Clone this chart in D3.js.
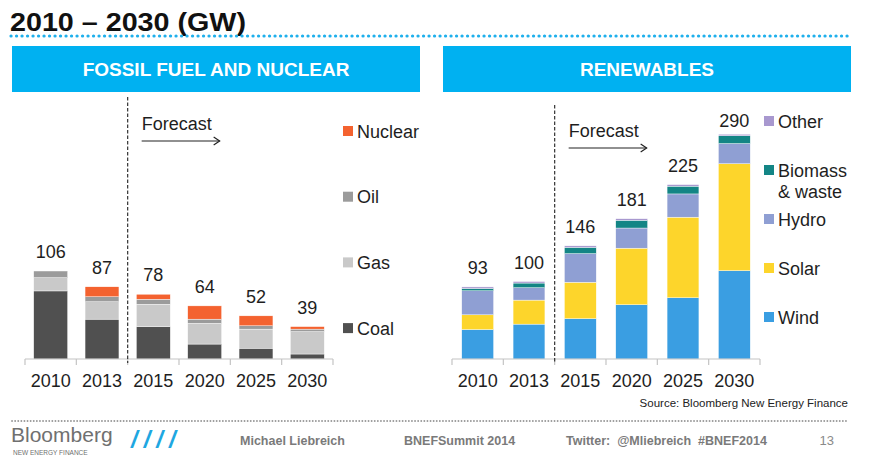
<!DOCTYPE html>
<html><head><meta charset="utf-8">
<script src="https://cdn.jsdelivr.net/npm/d3@7"></script>
<style>
html,body{margin:0;padding:0;background:#fff;}
svg{display:block;font-family:"Liberation Sans",Arial,sans-serif;}
</style></head>
<body><svg id="c" width="872" height="461"></svg>
<script>
// ---- data ----
const years = ["2010","2013","2015","2020","2025","2030"];
const fossilKeys = ["Coal","Gas","Oil","Nuclear"];
const coal    = [82, 48, 39, 18, 13, 6];
const gas     = [16, 21, 27, 25, 23, 27];
const oil     = [ 8,  6,  6,  5,  4, 3];
const nuclear = [ 0, 12,  6, 16, 12, 3];
const fossilTotals = [106, 87, 78, 64, 52, 39];

const renewKeys = ["Wind","Solar","Hydro","Biomass & waste","Other"];
const wind    = [38, 45, 52, 70, 79, 114];
const solar   = [19, 31, 47, 73, 104, 138];
const hydro   = [31, 16, 37, 26, 30, 26];
const biomass = [ 3,  6,  8, 10, 10, 10];
const other   = [ 2,  2,  2,  2,  2,  2];
const renewTotals = [93, 100, 146, 181, 225, 290];

const fossilColors = {Coal:"#505050", Gas:"#c9c9c9", Oil:"#9b9b9b", Nuclear:"#f4622f"};
const renewColors = {Wind:"#3a9ee2", Solar:"#fdd52b", Hydro:"#8f9fd3", "Biomass & waste":"#138585", Other:"#a898cf"};

const svg = d3.select("#c");
const FONT = "'Liberation Sans', Arial, sans-serif";

// ---- header ----
svg.append("text").attr("x",10).attr("y",31).attr("font-size",26).attr("font-weight","bold")
  .attr("fill","#111").attr("textLength",236).attr("lengthAdjust","spacingAndGlyphs").text("2010 – 2030 (GW)");
svg.append("line").attr("x1",11).attr("x2",848).attr("y1",36).attr("y2",36)
  .attr("stroke","#1fb0ec").attr("stroke-width",3.2).attr("stroke-linecap","round").attr("stroke-dasharray","0.1 5.4");

const boxes = [{x:12,w:408,t:"FOSSIL FUEL AND NUCLEAR"},{x:443,w:408,t:"RENEWABLES"}];
boxes.forEach(b=>{
  svg.append("rect").attr("x",b.x).attr("y",46).attr("width",b.w).attr("height",46).attr("fill","#00b1f1");
  svg.append("text").attr("x",b.x+b.w/2).attr("y",76).attr("text-anchor","middle").attr("font-size",19)
    .attr("font-weight","bold").attr("fill","#fff").text(b.t);
});

function chart(opts){
  const {keys, series, totals, colors, x0, x1, yMax, yTop, barPad, sepTop, labelMinY, fc} = opts;
  const base = 359;
  const x = d3.scaleBand().domain(years).range([x0,x1]).paddingInner(barPad).paddingOuter(barPad/2);
  const y = d3.scaleLinear().domain([0,yMax]).range([base,yTop]);
  const rows = years.map((yr,i)=>{ const r={year:yr}; keys.forEach((k,j)=>r[k]=series[j][i]); return r;});
  const stack = d3.stack().keys(keys)(rows);
  const g = svg.append("g");
  g.selectAll("g.s").data(stack).join("g").attr("fill",d=>colors[d.key])
    .selectAll("rect").data(d=>d).join("rect")
    .attr("x",d=>x(d.data.year)).attr("width",x.bandwidth())
    .attr("y",d=>y(d[1])).attr("height",d=>Math.max(0,y(d[0])-y(d[1])))
    .attr("stroke","#fff").attr("stroke-width",0.4);
  // axis
  const ax = g.append("g").attr("transform",`translate(0,${base})`)
    .call(d3.axisBottom(x).tickSize(0).tickPadding(12));
  ax.select(".domain").attr("stroke","#c4c4c4").attr("stroke-width",1.2).attr("d",`M${x0},0H${x1}`);
  ax.selectAll("text").attr("font-size",18).attr("font-family",FONT).attr("fill","#1e1e1e").attr("dy","0.9em");
  const bounds = years.map(yr=>x(yr)-x.step()*x.paddingInner()/2).concat([x1]);
  bounds[0]=x0;
  g.selectAll("line.tk").data(bounds).join("line").attr("x1",d=>d).attr("x2",d=>d)
    .attr("y1",base).attr("y2",base+6).attr("stroke","#c4c4c4").attr("stroke-width",1.2);
  // totals
  g.selectAll("text.tot").data(years).join("text")
    .attr("x",d=>x(d)+x.bandwidth()/2).attr("y",(d,i)=>Math.max(y(totals[i])-13,labelMinY))
    .attr("text-anchor","middle").attr("font-size",18).attr("fill","#1e1e1e").text((d,i)=>totals[i]);
  // separator
  const sx = x("2015")-x.step()*x.paddingInner()/2;
  g.append("line").attr("x1",sx).attr("x2",sx).attr("y1",sepTop).attr("y2",base+4)
    .attr("stroke","#333").attr("stroke-width",1.2).attr("stroke-dasharray","3.5 2");
  // forecast
  g.append("text").attr("x",sx+14).attr("y",fc).attr("font-size",18).attr("fill","#1e1e1e").text("Forecast");
  const ay = fc+11;
  g.append("line").attr("x1",sx+14).attr("x2",sx+92).attr("y1",ay).attr("y2",ay).attr("stroke","#222").attr("stroke-width",1.2);
  g.append("path").attr("d",`M${sx+86},${ay-4}L${sx+92},${ay}L${sx+86},${ay+4}`).attr("fill","none").attr("stroke","#222").attr("stroke-width",1.2);
  return {x,y};
}

chart({keys:fossilKeys, series:[coal,gas,oil,nuclear], totals:fossilTotals, colors:fossilColors,
  x0:25, x1:333, yMax:120, yTop:359-120*0.83, barPad:0.34, sepTop:97, labelMinY:0, fc:130});
chart({keys:renewKeys, series:[wind,solar,hydro,biomass,other], totals:renewTotals, colors:renewColors,
  x0:452, x1:760, yMax:300, yTop:359-300*0.775, barPad:0.38, sepTop:105, labelMinY:127, fc:137});

// legends
const fossilLegend = ["Nuclear","Oil","Gas","Coal"];
const fl = svg.append("g").selectAll("g").data(fossilLegend).join("g")
  .attr("transform",(d,i)=>`translate(343,${131+i*65.7})`);
fl.append("rect").attr("x",0).attr("y",-5).attr("width",10).attr("height",10).attr("fill",d=>fossilColors[d]);
fl.append("text").attr("x",14).attr("y",6.5).attr("font-size",18).attr("fill","#1e1e1e").text(d=>d);

const renewLegend = ["Other","Biomass & waste","Hydro","Solar","Wind"];
const rl = svg.append("g").selectAll("g").data(renewLegend).join("g")
  .attr("transform",(d,i)=>`translate(764,${121+i*49})`);
rl.append("rect").attr("x",0).attr("y",-5).attr("width",10).attr("height",10).attr("fill",d=>renewColors[d]);
rl.append("text").attr("x",14).attr("y",6.5).attr("font-size",18).attr("fill","#1e1e1e")
  .each(function(d){
    const parts = d==="Biomass & waste" ? ["Biomass","& waste"] : [d];
    d3.select(this).selectAll("tspan").data(parts).join("tspan").attr("x",14).attr("dy",(p,i)=>i?21.5:0).text(p=>p);
  });

// source & footer
svg.append("text").attr("x",848).attr("y",407).attr("text-anchor","end").attr("font-size",11.5)
  .attr("fill","#222").attr("font-family","'Liberation Sans Narrow','Liberation Sans',sans-serif").text("Source: Bloomberg New Energy Finance");
svg.append("line").attr("x1",12).attr("x2",848).attr("y1",421).attr("y2",421)
  .attr("stroke","#9a9a9a").attr("stroke-width",1.8).attr("stroke-linecap","round").attr("stroke-dasharray","0.1 3");
svg.append("text").attr("x",11).attr("y",442).attr("font-size",21).attr("fill","#707070").text("Bloomberg");
svg.append("text").attr("x",13).attr("y",455).attr("font-size",6.5).attr("fill","#707070").text("NEW ENERGY FINANCE");
svg.append("text").attr("x",131).attr("y",448).attr("font-size",24).attr("font-weight","bold").attr("font-style","italic")
  .attr("fill","#1ea7e1").attr("letter-spacing",6).text("////");
const foot = [{x:240,t:"Michael Liebreich"},{x:404,t:"BNEFSummit 2014"},{x:566,t:"Twitter:  @Mliebreich  #BNEF2014"}];
svg.selectAll("text.ft").data(foot).join("text").attr("x",d=>d.x).attr("y",445).attr("font-size",12.5)
  .attr("font-weight","bold").attr("fill","#7a7a7a").attr("xml:space","preserve").style("white-space","pre")
  .attr("font-family","'Liberation Sans Narrow','Liberation Sans',sans-serif").text(d=>d.t);
svg.append("text").attr("x",834).attr("y",445).attr("text-anchor","end").attr("font-size",13).attr("fill","#8a8a8a").text("13");
</script></body></html>
